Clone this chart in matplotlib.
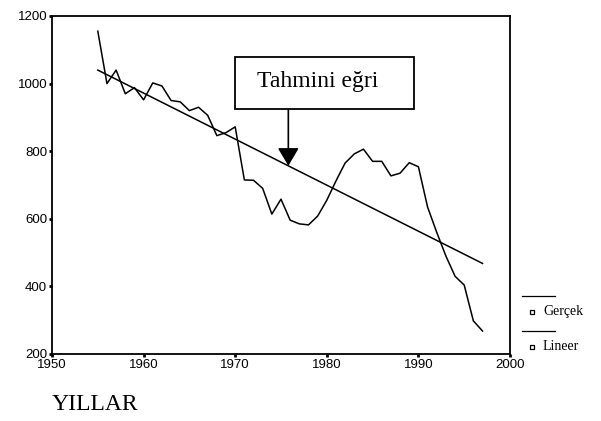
import numpy as np
import matplotlib as mpl
mpl.use('Agg')
import matplotlib.pyplot as plt
from matplotlib.lines import Line2D
from matplotlib.patches import Rectangle

# data
years = list(range(1955, 1998))
gercek = [1155, 1000, 1040, 970, 988, 952, 1002, 993, 950, 946,
          920, 930, 906, 846, 855, 872, 715, 714, 690, 614,
          658, 596, 585, 582, 608, 655, 712, 765, 792, 806,
          770, 770, 727, 735, 766, 754, 635, 560, 490, 430,
          404, 298, 268]
trend_years = [1955, 1997]
trend_vals = [1040, 468]
arrow_year = 1975.8

fig = plt.figure(figsize=(6.01, 4.21), dpi=100)
ax = fig.add_axes([52/601, 1-354/421, 458/601, 338/421])

ax.plot(years, gercek, color='black', lw=1.1)
ax.plot(trend_years, trend_vals, color='black', lw=1.1)

ax.set_xlim(1950, 2000)
ax.set_ylim(200, 1200)
ax.set_xticks(range(1950, 2001, 10))
ax.set_yticks(range(200, 1201, 200))
for s in ax.spines.values():
    s.set_linewidth(1.3)
ax.tick_params(direction='out', length=2.5, width=2, pad=1,
               labelsize=9.5)
for lab in ax.get_xticklabels() + ax.get_yticklabels():
    lab.set_family(['Liberation Sans', 'DejaVu Sans'])

# label box
fig.add_artist(Rectangle((235/601, 1-109/421), 179/601, 52/421,
                         transform=fig.transFigure, fc='white', ec='black',
                         lw=1.3, zorder=5))
fig.text(318/601, 1-82/421, 'Tahmini eğri', fontsize=17, ha='center',
         va='center', family=['Liberation Serif', 'DejaVu Serif'], zorder=6)

# arrow from box down to the trend line
tip_v = np.interp(arrow_year, trend_years, trend_vals)
ax.annotate('', xy=(arrow_year, tip_v), xycoords='data',
            xytext=(arrow_year, 1200 - (109 - 16) / 338 * 1000), textcoords='data',
            arrowprops=dict(arrowstyle='-|>,head_length=1.1,head_width=0.65',
                            color='black', lw=1.2, shrinkA=0, shrinkB=0))

# legend drawn outside right
for i, name in enumerate(['Gerçek', 'Lineer']):
    yl = 1 - (296 + i*35)/421
    fig.add_artist(Line2D([522/601, 555/601], [yl, yl], color='black', lw=0.9,
                          transform=fig.transFigure))
    ym = 1 - (312 + i*35)/421
    fig.add_artist(Line2D([532/601], [ym], marker='s', ms=3.5, mfc='white',
                          mec='black', mew=0.9, transform=fig.transFigure))
    fig.text(543/601, ym, name, fontsize=10, va='center',
             family=['Liberation Serif', 'DejaVu Serif'])

fig.text(52/601, 1-405/421, 'YILLAR', fontsize=17, va='center',
         family=['Liberation Serif', 'DejaVu Serif'])

fig.savefig('out.png', dpi=100)
